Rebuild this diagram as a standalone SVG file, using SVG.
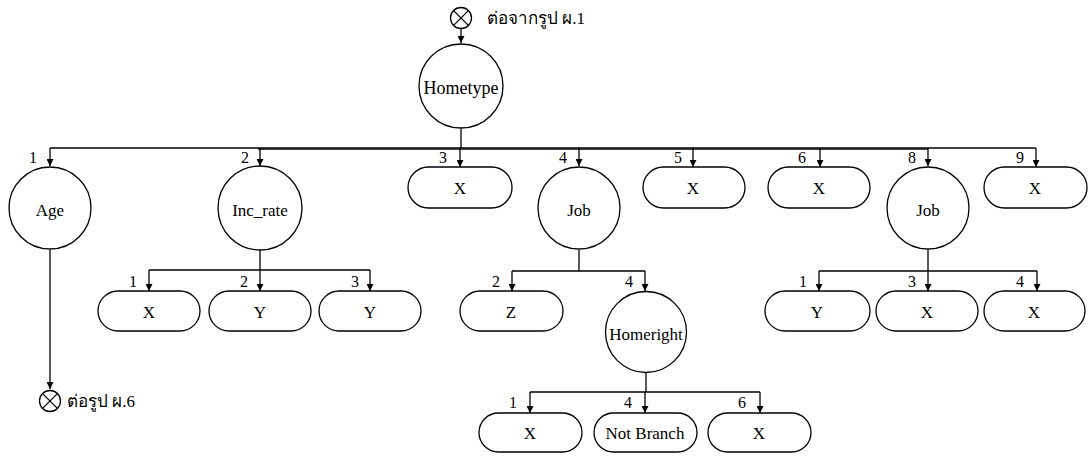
<svg xmlns="http://www.w3.org/2000/svg" width="1092" height="458" viewBox="0 0 1092 458">
<defs>
<marker id="ah" viewBox="0 0 10 10" refX="10" refY="5" markerWidth="7" markerHeight="7" markerUnits="userSpaceOnUse" orient="auto">
<path d="M0,0 L10,5 L0,10 z" fill="#000"/>
</marker>
<style>
.n{fill:#fff;stroke:#000;stroke-width:1.3}
.c{fill:none;stroke:#000;stroke-width:1.3}
.a{fill:none;stroke:#000;stroke-width:1.3;marker-end:url(#ah)}
text{font-family:"Liberation Serif","Times New Roman",serif;font-size:17px;fill:#000}
.m{text-anchor:middle;dominant-baseline:central}
.l{text-anchor:middle;font-size:16px}
</style>
</defs>
<rect width="1092" height="458" fill="#fff"/>
<g id="connectors">
<path class="a" d="M461,29 V43"/>
<path class="c" d="M461,129 V148"/>
<path class="c" d="M50,148 H1036"/>
<path class="c" d="M258,149.2 H928"/>
<path class="a" d="M50,148 V166"/>
<path class="a" d="M260,148 V166"/>
<path class="a" d="M460,148 V167"/>
<path class="a" d="M579,148 V166"/>
<path class="a" d="M693,148 V167"/>
<path class="a" d="M820,148 V167"/>
<path class="a" d="M928,148 V166"/>
<path class="a" d="M1036,148 V167"/>
<path class="a" d="M50,250 V389"/>
<path class="c" d="M260,250 V270 M149,270 H370"/>
<path class="a" d="M149,270 V291"/>
<path class="a" d="M260,270 V291"/>
<path class="a" d="M370,270 V291"/>
<path class="c" d="M579,250 V271 M512,271 H645"/>
<path class="a" d="M512,271 V291"/>
<path class="a" d="M645,271 V291"/>
<path class="c" d="M928,250 V271 M819,271 H1037"/>
<path class="a" d="M819,271 V291"/>
<path class="a" d="M928,271 V291"/>
<path class="a" d="M1037,271 V291"/>
<path class="c" d="M646,373 V392 M530,392 H760"/>
<path class="a" d="M530,392 V413"/>
<path class="a" d="M645,392 V413"/>
<path class="a" d="M760,392 V413"/>
</g>
<g id="labels">
<text class="l" x="33" y="163">1</text>
<text class="l" x="245" y="163">2</text>
<text class="l" x="443" y="163">3</text>
<text class="l" x="563" y="163">4</text>
<text class="l" x="678" y="163">5</text>
<text class="l" x="802" y="163">6</text>
<text class="l" x="912" y="163">8</text>
<text class="l" x="1020" y="163">9</text>
<text class="l" x="133" y="287">1</text>
<text class="l" x="244" y="287">2</text>
<text class="l" x="355" y="287">3</text>
<text class="l" x="496" y="287">2</text>
<text class="l" x="629" y="287">4</text>
<text class="l" x="803" y="287">1</text>
<text class="l" x="912" y="287">3</text>
<text class="l" x="1020" y="287">4</text>
<text class="l" x="513" y="408">1</text>
<text class="l" x="628" y="408">4</text>
<text class="l" x="742" y="408">6</text>
</g>
<g id="conn-top">
<circle class="n" cx="461" cy="18" r="10.5"/>
<path class="c" d="M453.6,10.6 L468.4,25.4 M468.4,10.6 L453.6,25.4"/>
<text x="487" y="24">ต่อจากรูป ผ.1</text>
</g>
<g id="hometype"><circle class="n" cx="461" cy="86" r="42"/><text class="m" x="461" y="88" style="font-size:18px">Hometype</text></g>
<g id="age"><circle class="n" cx="50" cy="208" r="41"/><text class="m" x="50" y="210">Age</text></g>
<g id="inc_rate"><circle class="n" cx="260" cy="208" r="42"/><text class="m" x="260" y="210">Inc_rate</text></g>
<g id="x3"><rect class="n" x="408" y="167" width="104" height="41" rx="20.5"/><text class="m" x="460" y="188">X</text></g>
<g id="job4"><circle class="n" cx="579" cy="208" r="41"/><text class="m" x="579" y="210">Job</text></g>
<g id="x5"><rect class="n" x="643" y="167" width="102" height="41" rx="20.5"/><text class="m" x="693" y="188">X</text></g>
<g id="x6"><rect class="n" x="768" y="167" width="102" height="41" rx="20.5"/><text class="m" x="819" y="188">X</text></g>
<g id="job8"><circle class="n" cx="928" cy="208" r="41"/><text class="m" x="928" y="210">Job</text></g>
<g id="x9"><rect class="n" x="984" y="167" width="103" height="41" rx="20.5"/><text class="m" x="1035" y="188">X</text></g>
<g id="inc-x1"><rect class="n" x="98" y="291" width="102" height="40" rx="20"/><text class="m" x="149" y="312">X</text></g>
<g id="inc-y2"><rect class="n" x="209" y="291" width="102" height="40" rx="20"/><text class="m" x="260" y="312">Y</text></g>
<g id="inc-y3"><rect class="n" x="319" y="291" width="102" height="40" rx="20"/><text class="m" x="370" y="312">Y</text></g>
<g id="job4-z"><rect class="n" x="460" y="291" width="103" height="40" rx="20"/><text class="m" x="511" y="312">Z</text></g>
<g id="homeright"><circle class="n" cx="646" cy="332" r="40.5"/><text class="m" x="646" y="334">Homeright</text></g>
<g id="job8-y1"><rect class="n" x="765" y="291" width="105" height="40" rx="20"/><text class="m" x="817" y="312">Y</text></g>
<g id="job8-x3"><rect class="n" x="876" y="291" width="102" height="40" rx="20"/><text class="m" x="927" y="312">X</text></g>
<g id="job8-x4"><rect class="n" x="984" y="291" width="101" height="40" rx="20"/><text class="m" x="1034" y="312">X</text></g>
<g id="hr-x1"><rect class="n" x="479" y="413" width="103" height="39" rx="19.5"/><text class="m" x="530" y="433">X</text></g>
<g id="hr-nb"><rect class="n" x="594" y="413" width="103" height="39" rx="19.5"/><text class="m" x="645" y="433">Not Branch</text></g>
<g id="hr-x6"><rect class="n" x="708" y="413" width="103" height="39" rx="19.5"/><text class="m" x="759" y="433">X</text></g>
<g id="conn-bottom">
<circle class="n" cx="50" cy="401" r="10.5"/>
<path class="c" d="M42.6,393.6 L57.4,408.4 M57.4,393.6 L42.6,408.4"/>
<text x="67" y="407">ต่อรูป ผ.6</text>
</g>
</svg>
